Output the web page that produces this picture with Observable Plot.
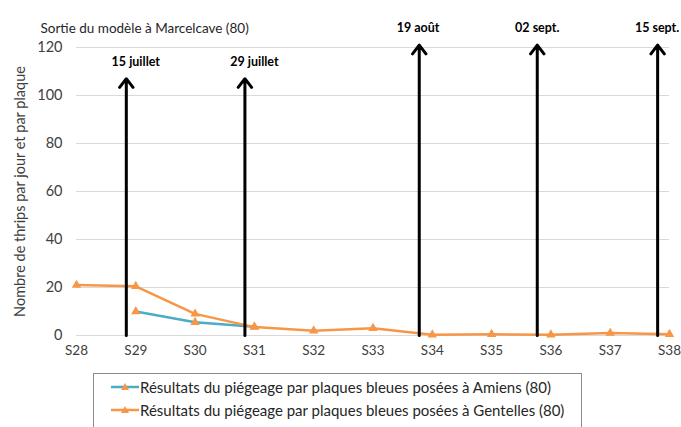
<!DOCTYPE html>
<html><head><meta charset="utf-8">
<script src="https://cdn.jsdelivr.net/npm/d3@7"></script>
<script src="https://cdn.jsdelivr.net/npm/@observablehq/plot@0.6"></script>
<style>
body{margin:0;background:#fff;font-family:Lato,"Open Sans",sans-serif;}
#wrap{position:relative;width:681px;height:427px;overflow:hidden;}
#legend{position:absolute;left:93px;top:373px;width:489px;height:70px;border:1px solid #8c8c8c;box-sizing:border-box;font-size:15px;color:#262626;}
.item{position:absolute;left:14px;display:flex;align-items:center;white-space:nowrap;}
</style></head>
<body><div id="wrap"><div id="chart"></div><div id="legend"></div></div>
<script>
const weeks = [28,29,30,31,32,33,34,35,36,37,38];
const gentelles = [21,20.5,9,3.5,2,3,0.3,0.5,0.3,1,0.5];
const amiensWeeks = [29,30,31];
const amiens = [10,5.5,3.6];
const arrowWeeks = [28.84,30.84,33.78,35.77,37.8];
const arrowTops = [107,107,121,121,121];
const arrowLabels = ["15 juillet","29 juillet","19 août","02 sept.","15 sept."];
const labelY = [114,114,128,128,128];
const labelX = [29.0,31.0,33.76,35.77,37.79];
const seriesNames = ["Résultats du piégeage par plaques bleues posées à Amiens (80)","Résultats du piégeage par plaques bleues posées à Gentelles (80)"];
const colors = ["#4bacc6","#f79646"];

const gData = weeks.map((w,i)=>({w,v:gentelles[i]}));
const aData = amiensWeeks.map((w,i)=>({w,v:amiens[i]}));
const arrows = arrowWeeks.map((w,i)=>({w,top:arrowTops[i]}));
const labels = arrowLabels.map((t,i)=>({t,x:labelX[i],y:labelY[i]}));

const chart = Plot.plot({
  width:681,height:370,
  marginLeft:76,marginRight:12,marginTop:47,marginBottom:35,
  style:{fontFamily:"Lato, 'Open Sans', sans-serif",fontSize:"13px",color:"#404040",background:"#fff"},
  x:{domain:[28,38],label:null},
  y:{domain:[0,120],label:null},
  marks:[
    Plot.gridY([0,20,40,60,80,100,120],{stroke:"#d9d9d9",strokeOpacity:1}),
    Plot.axisX({ticks:weeks,tickFormat:d=>"S"+d,tickSize:0,tickPadding:10,fontSize:13.5,label:null}),
    Plot.axisY({ticks:[0,20,40,60,80,100,120],tickSize:0,tickPadding:14,fontSize:14.5,
      label:"Nombre de thrips par jour et par plaque",labelAnchor:"center",labelOffset:62,labelArrow:false}),
    Plot.line(aData,{x:"w",y:"v",stroke:colors[0],strokeWidth:2.5}),
    Plot.dot(aData,{x:"w",y:"v",symbol:"triangle",r:3.5,fill:colors[1],stroke:null}),
    Plot.line(gData,{x:"w",y:"v",stroke:colors[1],strokeWidth:2.5}),
    Plot.dot(gData,{x:"w",y:"v",symbol:"triangle",r:3.5,fill:colors[1],stroke:null}),
    Plot.arrow(arrows,{x1:"w",x2:"w",y1:0,y2:"top",stroke:"#000",strokeWidth:3,headLength:5.5,headAngle:75}),
    Plot.text(labels,{x:"x",y:"y",text:"t",fontWeight:"bold",fontSize:12.5,fill:"#000"}),
    Plot.text(["Sortie du modèle à Marcelcave (80)"],{frameAnchor:"top-left",dx:-36,dy:-24,textAnchor:"start",fontSize:13.5,fill:"#262626"})
  ]
});
document.getElementById("chart").appendChild(chart);

const leg = document.getElementById("legend");
seriesNames.forEach((name,i)=>{
  const d = document.createElement("div");
  d.className="item";
  d.style.top = (i===0?4:27)+"px";
  d.innerHTML = `<svg width="32" height="14"><line x1="3" y1="7" x2="31" y2="7" stroke="${colors[i]}" stroke-width="2.5"/><path d="M17,3 L21,10 L13,10 Z" fill="${colors[1]}"/></svg><span>${name}</span>`;
  leg.appendChild(d);
});
</script></body></html>
